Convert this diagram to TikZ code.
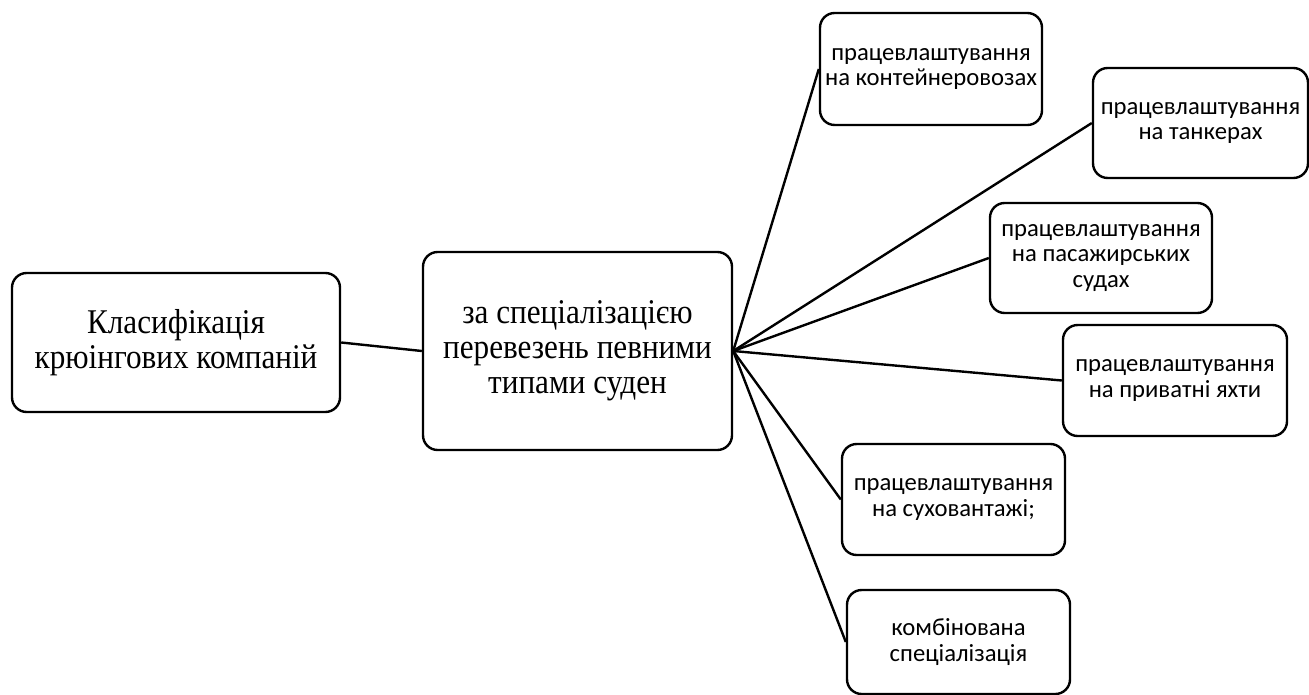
\documentclass[tikz,border=0pt]{standalone}
\usepackage{fontspec}
\setmainfont{Liberation Serif}
\newfontfamily\narrowserif[FakeStretch=0.9]{Liberation Serif}
\newfontfamily\calfont{Carlito}
\begin{document}
\begin{tikzpicture}[x=0.75pt,y=-0.75pt,
  box/.style={draw=black,line width=1.8pt,rounded corners=11pt,inner sep=0pt,align=center},
  bigbox/.style={box,font=\narrowserif\fontsize{26}{26.25}\selectfont},
  smallbox/.style={box,font=\calfont\fontsize{18.5}{19}\selectfont},
  link/.style={line width=1.8pt}]
\useasboundingbox (0,0) rectangle (1309,695);
\node[bigbox,minimum width=328*0.75pt,minimum height=139*0.75pt] (a) at (176,342.5) {Класифікація\\крюінгових компаній};
\node[bigbox,minimum width=309*0.75pt,minimum height=198*0.75pt] (b) at (577.5,351) {за спеціалізацією\\перевезень певними\\типами суден};
\node[smallbox,minimum width=222*0.75pt,minimum height=112*0.75pt] (c1) at (931,69) {працевлаштування\\на контейнеровозах};
\node[smallbox,minimum width=215*0.75pt,minimum height=110*0.75pt] (c2) at (1200.5,123) {працевлаштування\\на танкерах};
\node[smallbox,minimum width=222*0.75pt,minimum height=110*0.75pt] (c3) at (1101,258) {працевлаштування\\на пасажирських\\судах};
\node[smallbox,minimum width=224*0.75pt,minimum height=111*0.75pt] (c4) at (1175,380.5) {працевлаштування\\на приватні яхти};
\node[smallbox,minimum width=223*0.75pt,minimum height=111*0.75pt] (c5) at (953.5,499.5) {працевлаштування\\на суховантажі;};
\node[smallbox,minimum width=223*0.75pt,minimum height=104*0.75pt] (c6) at (958.5,642) {комбінована\\спеціалізація};
\draw[link] (a.east) -- (b.west);
\foreach \n in {c1,c2,c3,c4,c5,c6} \draw[link] (b.east) -- (\n.west);
\end{tikzpicture}
\end{document}
